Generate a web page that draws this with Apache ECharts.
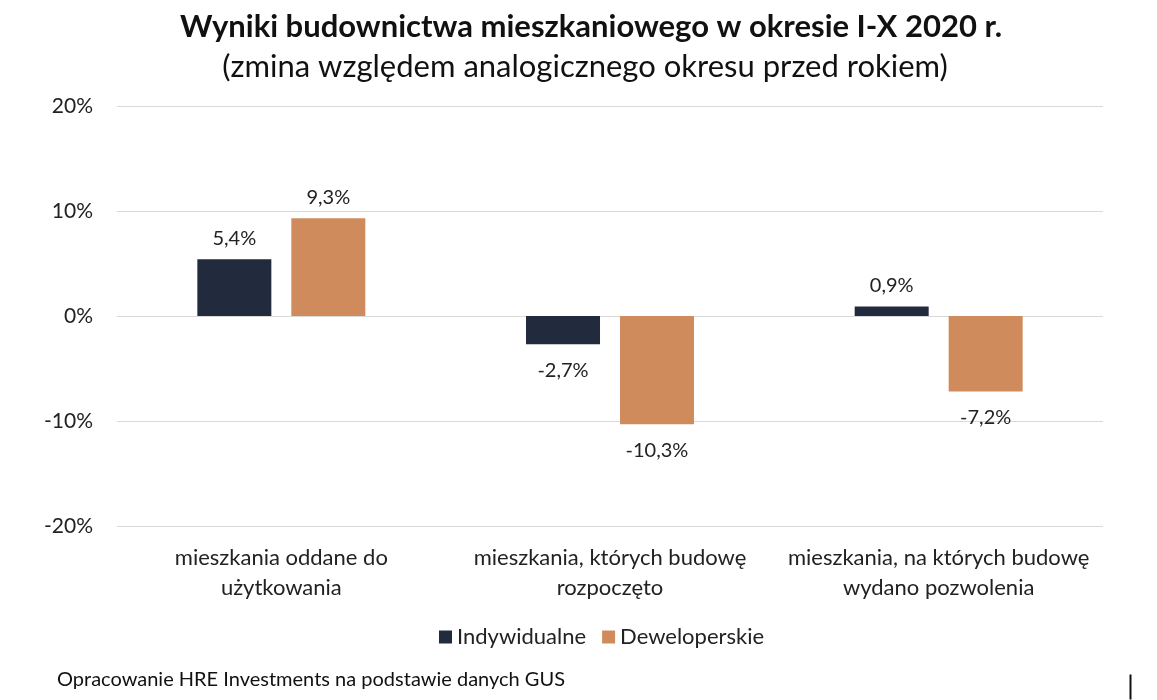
<!DOCTYPE html>
<html>
<head>
<meta charset="utf-8">
<script src="https://cdn.jsdelivr.net/npm/echarts@6/dist/echarts.min.js"></script>
<style>
  html, body { margin: 0; padding: 0; background: #fff; }
  #chart { width: 1157px; height: 700px; }
</style>
</head>
<body>
<div id="chart"></div>
<script>
// ---------- data ----------
const categories = [
  'mieszkania oddane do\nużytkowania',
  'mieszkania, których budowę\nrozpoczęto',
  'mieszkania, na których budowę\nwydano pozwolenia'
];
const indywidualne = [5.4, -2.7, 0.9];
const deweloperskie = [9.3, -10.3, -7.2];

const FONT = 'Lato, "Open Sans", sans-serif';
const DARK = '#222a3e';
const ORANGE = '#d08b5d';

const fmt = v => v.toFixed(1).replace('.', ',') + '%';
const barLabel = {
  show: true,
  color: '#222',
  fontFamily: FONT,
  fontSize: 20,
  formatter: p => fmt(p.value)
};
// labels above positive bars, below negative ones
const withPos = arr => arr.map(v => ({
  value: v,
  label: v >= 0 ? { position: 'top', distance: 11 } : { position: 'bottom', distance: 16 }
}));

const chart = echarts.init(document.getElementById('chart'), null, { renderer: 'canvas' });
chart.setOption({
  backgroundColor: '#fff',
  animation: false,
  title: [
    {
      text: 'Wyniki budownictwa mieszkaniowego w okresie I-X 2020 r.',
      left: 586, top: 6, textAlign: 'center',
      textStyle: { fontFamily: FONT, fontSize: 31, fontWeight: 'bold', color: '#111' }
    },
    {
      text: '(zmina względem analogicznego okresu przed rokiem)',
      left: 580, top: 46, textAlign: 'center',
      textStyle: { fontFamily: FONT, fontSize: 31, fontWeight: 'normal', color: '#111' }
    }
  ],
  legend: {
    bottom: 47, left: 434,
    itemWidth: 13, itemHeight: 13, itemGap: 16,
    icon: 'rect',
    textStyle: { fontFamily: FONT, fontSize: 22, color: '#222' },
    data: ['Indywidualne', 'Deweloperskie']
  },
  graphic: [
    {
      type: 'text', left: 57, top: 670,
      style: { text: 'Opracowanie HRE Investments na podstawie danych GUS', fontFamily: FONT, fontSize: 20, fill: '#111' }
    },
    {
      type: 'line', left: 1128, top: 672,
      shape: { x1: 0, y1: 0, x2: 0, y2: 25 },
      style: { stroke: '#111', lineWidth: 2 }
    }
  ],
  grid: { left: 117, right: 54, top: 106, height: 420 },
  xAxis: {
    type: 'category',
    data: categories,
    position: 'bottom',
    axisLine: { show: false },
    axisTick: { show: false },
    axisLabel: {
      interval: 0, margin: 17, lineHeight: 30,
      fontFamily: FONT, fontSize: 22, color: '#222'
    }
  },
  yAxis: {
    type: 'value',
    min: -20, max: 20, interval: 10,
    axisLine: { show: false },
    axisTick: { show: false },
    splitLine: { lineStyle: { color: '#d9d9d9', width: 1 } },
    axisLabel: {
      margin: 24, fontFamily: FONT, fontSize: 21, color: '#222',
      formatter: v => v + '%'
    }
  },
  series: [
    {
      name: 'Indywidualne', type: 'bar',
      data: withPos(indywidualne),
      barWidth: 74, barGap: '27%',
      itemStyle: { color: DARK },
      label: barLabel
    },
    {
      name: 'Deweloperskie', type: 'bar',
      data: withPos(deweloperskie),
      barWidth: 74, barGap: '27%',
      itemStyle: { color: ORANGE },
      label: barLabel
    }
  ]
});
</script>
</body>
</html>
